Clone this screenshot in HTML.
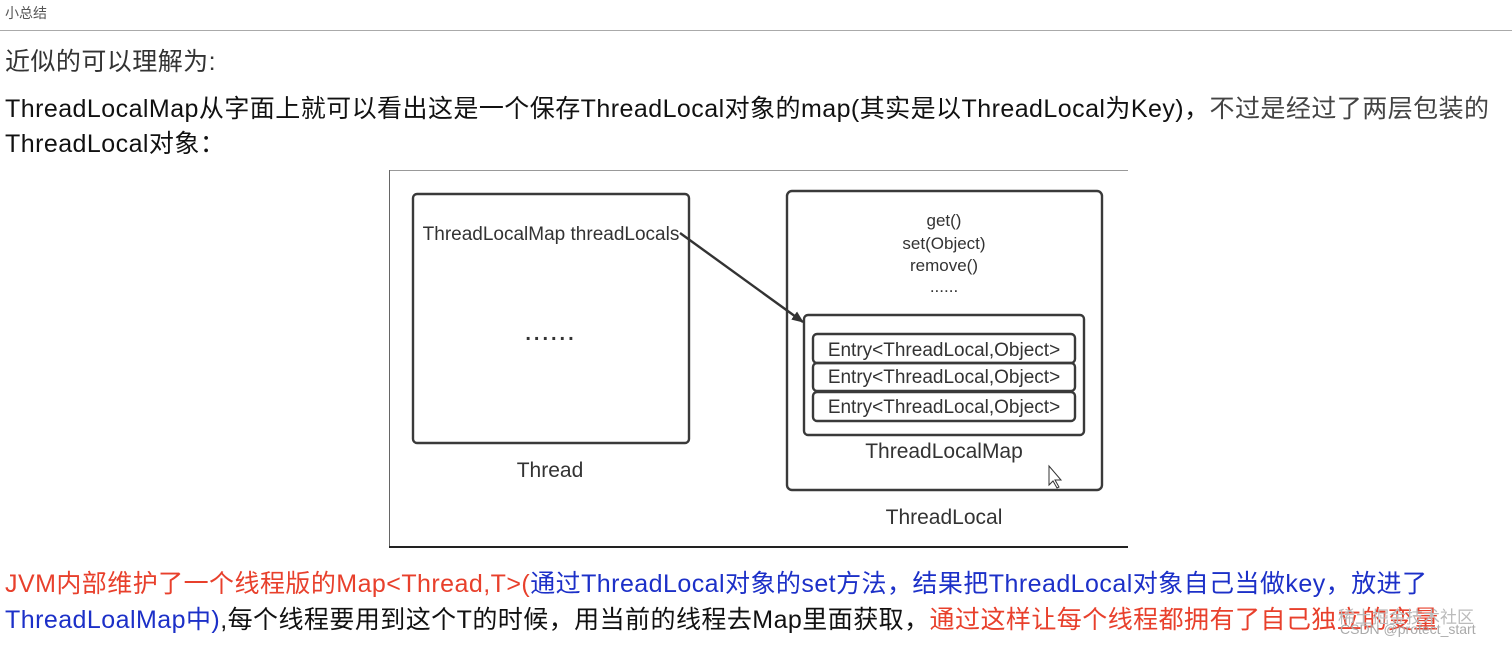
<!DOCTYPE html>
<html><head><meta charset="utf-8"><style>
body{margin:0;width:1512px;height:645px;background:#fff;overflow:hidden;position:relative;font-family:"Liberation Sans","Noto Sans CJK SC",sans-serif;}
.t{position:absolute;white-space:nowrap;left:5px;font-size:25px;letter-spacing:0.45px;color:#111;line-height:1;}
.r{color:#e8402c}.b{color:#1c30c8}
</style></head><body>
<div class="t" style="top:6px;font-size:14px;letter-spacing:0;color:#555;">小总结</div>
<div style="position:absolute;left:0;top:30px;width:1512px;height:1px;background:#aaa"></div>
<div class="t" style="top:50px;color:#333">近似的可以理解为:</div>
<div class="t" style="top:97px">ThreadLocalMap从字面上就可以看出这是一个保存ThreadLocal对象的map(其实是以ThreadLocal为Key)，<span style="color:#444">不过是经过了两层包装的</span></div>
<div class="t" style="top:132px">ThreadLocal对象：</div>
<svg style="position:absolute;left:0;top:0" width="1512" height="645">
<defs><marker id="a" markerWidth="12" markerHeight="10" refX="11" refY="5" orient="auto" markerUnits="userSpaceOnUse"><path d="M0,0L12,5L0,10z" fill="#333"/></marker></defs>
<line x1="389" y1="170.5" x2="1128" y2="170.5" stroke="#999" stroke-width="1"/>
<line x1="389.5" y1="170" x2="389.5" y2="548" stroke="#666" stroke-width="1"/>
<line x1="389" y1="547" x2="1128" y2="547" stroke="#222" stroke-width="2"/>
<g fill="none" stroke="#3a3a3a" stroke-width="2.4">
<rect x="413" y="194" width="276" height="249" rx="4"/>
<rect x="787" y="191" width="315" height="299" rx="5"/>
<rect x="804" y="315" width="280" height="120" rx="4"/>
<rect x="813" y="334" width="262" height="29" rx="4"/>
<rect x="813" y="363" width="262" height="28" rx="4"/>
<rect x="813" y="392" width="262" height="29" rx="4"/>
</g>
<line x1="680" y1="233" x2="803" y2="322" stroke="#333" stroke-width="2.4" marker-end="url(#a)"/>
<g font-family="Liberation Sans,sans-serif" fill="#333" font-size="19" text-anchor="middle">
<text x="551" y="240">ThreadLocalMap threadLocals</text>
<text x="551" y="340" font-size="20" font-weight="bold" letter-spacing="3">......</text>
<text x="550" y="477" font-size="21">Thread</text>
<text x="944" y="226" font-size="17">get()</text>
<text x="944" y="249" font-size="17">set(Object)</text>
<text x="944" y="271" font-size="17">remove()</text>
<text x="944" y="292" font-size="17">......</text>
<text x="944" y="356">Entry&lt;ThreadLocal,Object&gt;</text>
<text x="944" y="383">Entry&lt;ThreadLocal,Object&gt;</text>
<text x="944" y="413">Entry&lt;ThreadLocal,Object&gt;</text>
<text x="944" y="458" font-size="21">ThreadLocalMap</text>
<text x="944" y="524" font-size="21">ThreadLocal</text>
</g>
<path d="M1049,466 l0,19 l4,-4 l4,7 l2,-1 l-4,-7 l6,0z" fill="#fff" stroke="#333" stroke-width="1"/>
</svg>
<div class="t" style="top:572px"><span class="r">JVM内部维护了一个线程版的Map&lt;Thread,T&gt;(</span><span class="b">通过ThreadLocal对象的set方法，结果把ThreadLocal对象自己当做key，放进了</span></div>
<div class="t" style="top:608px"><span class="b">ThreadLoalMap中)</span>,每个线程要用到这个T的时候，用当前的线程去Map里面获取，<span class="r">通过这样让每个线程都拥有了自己独立的变量</span></div>
<div style="position:absolute;left:1338px;top:603px;font-size:17px;color:#bbb;font-family:'Liberation Sans','Noto Sans CJK SC',sans-serif">稀土掘金技术社区</div>
<div style="position:absolute;left:1340px;top:621px;font-size:14px;color:#aaa;font-family:'Liberation Sans',sans-serif">CSDN @protect_start</div>
</body></html>
